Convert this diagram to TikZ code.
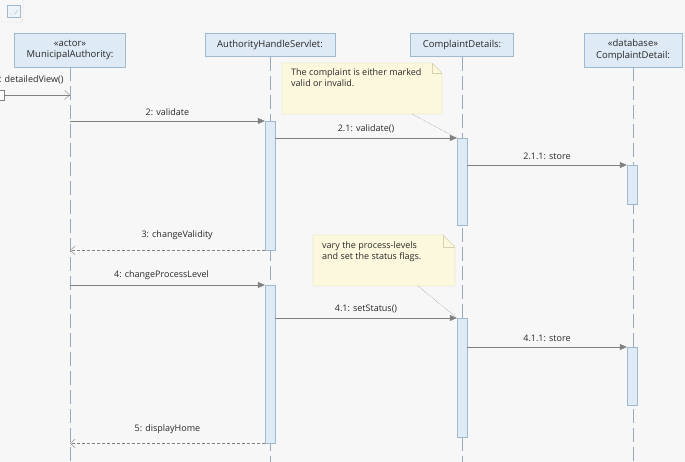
\documentclass[tikz,border=0pt]{standalone}
\usepackage{fontspec}
\setmainfont{Open Sans}
\usepackage{tikz}
\usetikzlibrary{arrows.meta, positioning}
\definecolor{pagecolor}{RGB}{247, 247, 247}
\definecolor{headfill}{RGB}{222, 234, 246}
\definecolor{headline}{RGB}{160, 185, 205}
\definecolor{lifecolor}{RGB}{150, 170, 190}
\definecolor{msgcolor}{RGB}{128, 128, 128}
\definecolor{notefill}{RGB}{251, 248, 222}
\definecolor{noteline}{RGB}{215, 210, 172}
\definecolor{textcolor}{RGB}{40, 40, 40}

\begin{document}
\begin{tikzpicture}[x=1pt, y=-1pt,
    font=\fontsize{9}{11}\selectfont, text=textcolor,
    head/.style={draw=headline, fill=headfill, align=center, inner sep=2pt, font=\fontsize{9.5}{11.5}\selectfont},
    life/.style={draw=lifecolor, dash pattern=on 14pt off 5pt},
    act/.style={draw=headline, fill=headfill, minimum width=10pt, anchor=north, inner sep=0pt},
    msg/.style={draw=msgcolor, -{Triangle[length=7pt, width=6pt]}},
    reply/.style={draw=msgcolor, densely dashed, -{Straight Barb[length=5pt, width=9pt]}},
    notebox/.style={draw=noteline, fill=notefill},
    notetext/.style={align=left, inner sep=0pt},
    tail/.style={draw=black!60, densely dotted}
]

\useasboundingbox (0, 0) rectangle (685, 462);
\fill[pagecolor] (0, 0) rectangle (685, 462);

% Frame tab and icon
\draw[black!15, rounded corners=3pt] (23, 0) -- (23, 22) -- (0, 22);
\draw[headline, fill=headfill!50] (7, 5) rectangle (20, 17);
\draw[headline] (9, 14) -- (15, 14) -- (18, 10);

% Lifeline heads
\node[head, minimum width=111pt, minimum height=34pt] (authority) at (70, 50) {«actor»\\MunicipalAuthority:};
\node[head, minimum width=130pt, minimum height=23pt] (servlet) at (270, 45) {AuthorityHandleServlet:};
\node[head, minimum width=103pt, minimum height=23pt] (details) at (462, 45) {ComplaintDetails:};
\node[head, minimum width=98pt, minimum height=34pt] (dbase) at (633, 50) {«database»\\ComplaintDetail:};

% Lifelines
\coordinate (bottom) at (0, 462);
\draw[life] (authority.south) -- (authority |- bottom);
\draw[life] (servlet.south) -- (servlet |- bottom);
\draw[life] (details.south) -- (details |- bottom);
\draw[life] (dbase.south) -- (dbase |- bottom);

% Activations
\node[act, minimum height=129pt] (servA) at (270, 121) {};
\node[act, minimum height=87pt] (detA) at (462, 138) {};
\node[act, minimum height=39pt] (dbA) at (632, 165) {};
\node[act, minimum height=158pt] (servB) at (270, 285) {};
\node[act, minimum height=119pt] (detB) at (462, 318) {};
\node[act, minimum height=58pt] (dbB) at (632, 347) {};

% Found message
\coordinate (gate) at (4, 95);
\draw[msgcolor, fill=white] (-5, 90) rectangle (gate |- 0, 100);
\node[anchor=west, inner sep=0pt] (found) at (-1, 80) {: detailedView()};
\draw[draw=msgcolor, -{Straight Barb[length=5pt, width=9pt]}] (gate) -- (gate -| authority);

% Messages
\draw[msg] (authority |- servA.north) -- node[above=2pt] {2: validate} (servA.north west);
\draw[msg] (servA.east |- detA.north) -- node[above=2pt] {2.1: validate()} (detA.north west);
\draw[msg] (detA.east |- dbA.north) -- node[above=2pt] {2.1.1: store} (dbA.north west);
\draw[reply] (servA.south west) -- node[pos=0.45, above=7pt] {3: changeValidity} (authority |- servA.south);
\draw[msg] (authority |- servB.north) -- node[pos=0.47, above=2pt] {4: changeProcessLevel} (servB.north west);
\draw[msg] (servB.east |- detB.north) -- node[above=2pt] {4.1: setStatus()} (detB.north west);
\draw[msg] (detB.east |- dbB.north) -- node[above=2pt] {4.1.1: store} (dbB.north west);
\draw[reply] (servB.south west) -- node[above=6pt] {5: displayHome} (authority |- servB.south);

% Notes
\coordinate (note1) at (282, 63);
\draw[notebox] (note1) -- ++(150, 0) -- ++(10, 10) -- ++(0, 41) -- ++(-160, 0) -- cycle;
\draw[noteline] (432, 63) -- (432, 73) -- (442, 73);
\node[notetext, below right=5pt and 9pt of note1] (text1) {The complaint is either marked\\valid or invalid.};
\coordinate (tail1) at (412, 114);
\draw[tail] (tail1) -- (detA.north west);

\coordinate (note2) at (313, 235);
\draw[notebox] (note2) -- ++(130, 0) -- ++(12, 12) -- ++(0, 39) -- ++(-142, 0) -- cycle;
\draw[noteline] (443, 235) -- (443, 247) -- (455, 247);
\node[notetext, below right=6pt and 9pt of note2] (text2) {vary the process-levels\\and set the status flags.};
\coordinate (tail2) at (418, 286);
\draw[tail] (tail2) -- (detB.north west);

\end{tikzpicture}
\end{document}
